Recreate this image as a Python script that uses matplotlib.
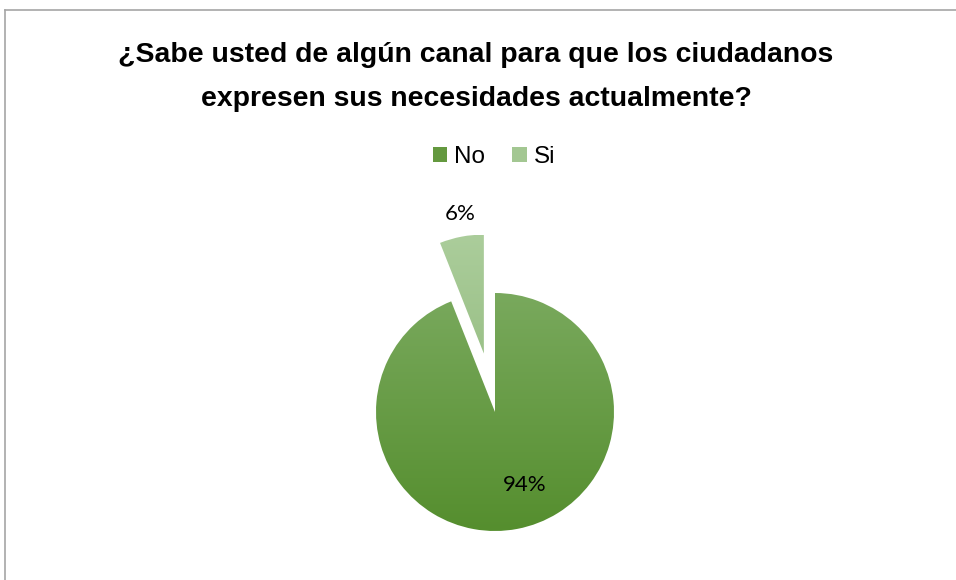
import matplotlib

matplotlib.use("Agg")
import matplotlib.pyplot as plt
import numpy as np
from matplotlib.lines import Line2D
from matplotlib.patches import Patch

TITLE = "¿Sabe usted de algún canal para que los ciudadanos\nexpresen sus necesidades actualmente?"
categories = ["No", "Si"]
values = [94, 6]

# colours: (top of gradient, bottom of gradient)
grad = {"No": ("#79a95d", "#558e2e"), "Si": ("#abcd9b", "#9bc188")}
legend_col = {"No": "#64993f", "Si": "#a3c792"}

W, H = 956, 580
fig = plt.figure(figsize=(W / 100, H / 100), dpi=100)

# chart-area border (top and left edge visible)
fig.add_artist(Line2D([5 / W, 1], [1 - 10 / H, 1 - 10 / H], color="#a6a6a6", lw=1.2))
fig.add_artist(Line2D([5 / W, 5 / W], [0, 1 - 10 / H], color="#a6a6a6", lw=1.2))

fig.text(476 / W, 1 - 77 / H, TITLE, ha="center", va="center", fontsize=20.4,
         fontweight="bold", family="Liberation Sans", linespacing=1.88)

# pie axes: centre at (495, 412) px, radius 119 px
r_px, cx, cy = 119, 495, H - 412
lim = 1.8
ax = fig.add_axes([(cx - lim * r_px) / W, (cy - lim * r_px) / H,
                   2 * lim * r_px / W, 2 * lim * r_px / H])
ax.set_xlim(-lim, lim)
ax.set_ylim(-lim, lim)
ax.set_aspect("equal")
ax.axis("off")

# Si sits just left of 12 o'clock, No fills the rest
wedges, _ = ax.pie(values[::-1], startangle=90, counterclock=True,
                   explode=[0.5, 0], colors=[legend_col[c] for c in categories[::-1]])
wedges = wedges[::-1]

for w, c in zip(wedges, categories):
    top, bot = grad[c]
    ext = w.get_path().get_extents()
    t = np.array(matplotlib.colors.to_rgb(top))
    b = np.array(matplotlib.colors.to_rgb(bot))
    f = np.linspace(0, 1, 256)[:, None]
    img = (t * (1 - f) + b * f)[:, None, :]
    im = ax.imshow(img, extent=[ext.x0, ext.x1, ext.y0, ext.y1],
                   aspect="auto", origin="upper", zorder=2)
    im.set_clip_path(w)
    w.set_alpha(0)

ax.set_xlim(-lim, lim)
ax.set_ylim(-lim, lim)

# percentage labels
label_pos = {"No": (0.25, -0.61), "Si": (-0.29, 1.66)}
for c, v in zip(categories, values):
    x, y = label_pos[c]
    ax.text(x, y, f"{v}%", ha="center", va="center", fontsize=16,
            family="Lato", color="black", zorder=3)

handles = [Patch(facecolor=legend_col[c], edgecolor="none") for c in categories]
fig.legend(handles, categories, loc="center", bbox_to_anchor=(494 / W, 1 - 157 / H),
           ncol=2, frameon=False, prop={"family": "Liberation Sans", "size": 17.5},
           handlelength=0.6, handleheight=0.6, handletextpad=0.3, columnspacing=1.1)

fig.savefig("out.png", dpi=100)
